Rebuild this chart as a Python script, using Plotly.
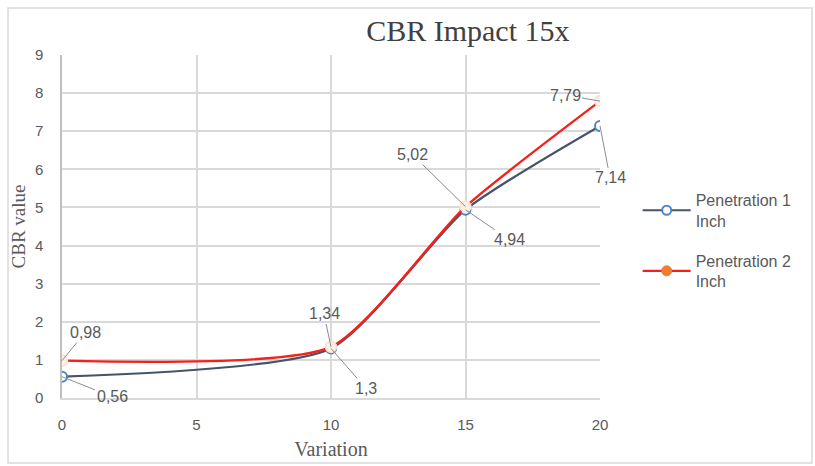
import plotly.graph_objects as go

# Data
variation = [0, 10, 15, 20]
pen1 = [0.56, 1.3, 4.94, 7.14]
pen2 = [0.98, 1.34, 5.02, 7.79]
x_ticks = [0, 5, 10, 15, 20]
y_ticks = list(range(0, 10))

# Label offsets (pixels) for the data labels with leader lines
pen1_offsets = [(50, 20), (35, 40), (44, 30), (10, 52)]
pen2_offsets = [(23, -28), (-7, -33), (-53, -52), (-35, -6)]

GRID = "#d9d9d9"
TXT = "#595959"
SMOOTH = 0.6

fig = go.Figure()

fig.add_trace(go.Scatter(
    x=variation, y=pen1, mode="lines+markers", name="Penetration 1<br>Inch",
    line=dict(color="#44546a", width=2.2, shape="spline", smoothing=SMOOTH),
    marker=dict(symbol="circle", size=10, color="white",
                line=dict(color="#4a86c8", width=2)),
    showlegend=False,
))
fig.add_trace(go.Scatter(
    x=variation, y=pen2, mode="lines+markers", name="Penetration 2<br>Inch",
    line=dict(color="#f5201a", width=2.4, shape="spline", smoothing=SMOOTH),
    marker=dict(symbol="circle", size=11, color="#fdf0e8",
                line=dict(color="#fbe0d0", width=1.5)),
    showlegend=False,
))

# Legend entries
fig.add_trace(go.Scatter(
    x=[None], y=[None], mode="lines+markers", name="Penetration 1<br>Inch",
    legendgroup="p1",
    line=dict(color="#44546a", width=2.2),
    marker=dict(symbol="circle", size=9, color="white",
                line=dict(color="#4a86c8", width=2)),
))
fig.add_trace(go.Scatter(
    x=[None], y=[None], mode="lines+markers", name="Penetration 2<br>Inch",
    legendgroup="p2",
    line=dict(color="#f5201a", width=2.4),
    marker=dict(symbol="circle", size=10, color="#ed7d31",
                line=dict(color="#ed7d31", width=1)),
))

annotations = []
for xs, ys, offs in ((variation, pen1, pen1_offsets), (variation, pen2, pen2_offsets)):
    for xv, yv, (ax, ay) in zip(xs, ys, offs):
        annotations.append(dict(
            x=xv, y=yv, xref="x", yref="y",
            text=f"{yv:g}".replace(".", ","),
            showarrow=True, arrowhead=0, arrowwidth=1, arrowcolor="#8c8c8c",
            ax=ax, ay=ay, standoff=0,
            font=dict(family="Liberation Sans, Arial", size=16, color=TXT),
        ))

fig.update_layout(
    width=815, height=466,
    margin=dict(l=62, r=215, t=55, b=68),
    paper_bgcolor="white", plot_bgcolor="white",
    title=dict(text="CBR Impact 15x", x=0.574, xanchor="center", y=0.935,
               yanchor="middle",
               font=dict(family="Liberation Serif, Times New Roman", size=30,
                         color="#404040")),
    xaxis=dict(range=[0, 20], tickvals=x_ticks, showgrid=True, gridcolor=GRID,
               gridwidth=1.5, zeroline=False, showline=True, linecolor=GRID,
               linewidth=1.5, ticks="", ticklabelstandoff=12, automargin=False,
               tickfont=dict(family="Liberation Sans, Arial", size=15, color=TXT),
               title=dict(text="Variation", standoff=10,
                          font=dict(family="Liberation Serif, Times New Roman",
                                    size=20, color=TXT))),
    yaxis=dict(range=[0, 9], tickvals=y_ticks, showgrid=True, gridcolor=GRID,
               gridwidth=1.5, zeroline=False, showline=True, linecolor="#bfbfbf",
               linewidth=1.5, ticks="", ticklabelstandoff=14, automargin=False,
               tickfont=dict(family="Liberation Sans, Arial", size=15, color=TXT),
               title=dict(text="CBR value", standoff=4,
                          font=dict(family="Liberation Serif, Times New Roman",
                                    size=19, color=TXT))),
    legend=dict(x=1.07, y=0.627, xanchor="left", yanchor="top",
                font=dict(family="Liberation Sans, Arial", size=16, color=TXT),
                tracegroupgap=16, itemwidth=48, bgcolor="rgba(0,0,0,0)"),
    annotations=annotations,
    shapes=[dict(type="rect", xref="paper", yref="paper",
                 x0=(8 - 62) / 538, x1=(812 - 62) / 538,
                 y0=(398 - 463) / 343, y1=(398 - 8) / 343,
                 line=dict(color="#d9d9d9", width=1.5), layer="below")],
)

fig.write_html("out.html")
